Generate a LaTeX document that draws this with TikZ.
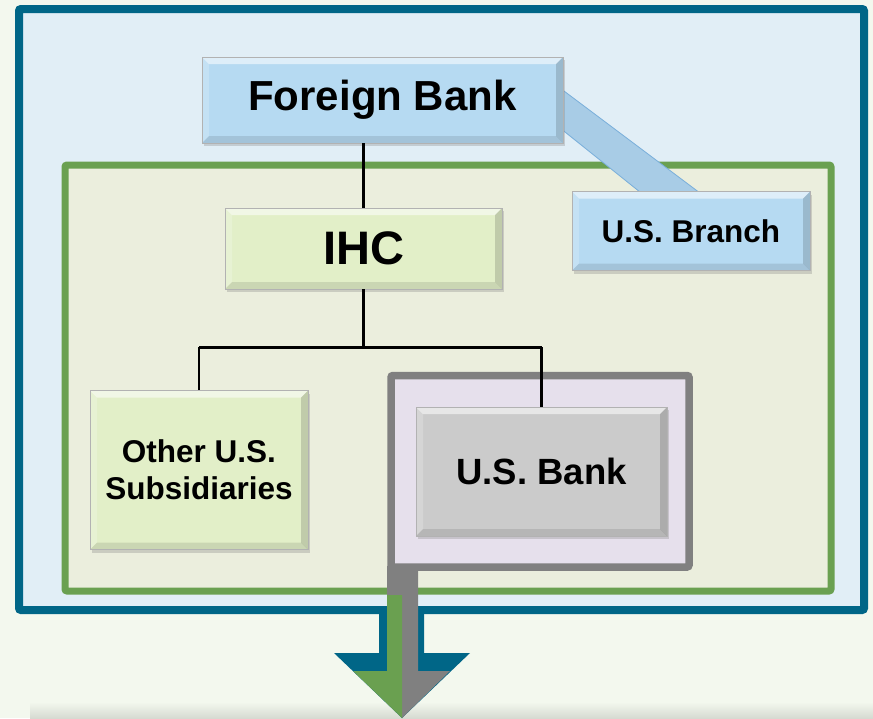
\documentclass[tikz,border=0pt]{standalone}
\usepackage{fontspec}
\setmainfont{Liberation Sans}
\usetikzlibrary{positioning,calc,shadows,backgrounds}
\definecolor{CanvasGreen}{HTML}{F3F8EE}
\definecolor{FrameBlue}{HTML}{006687}
\definecolor{FrameBlueFill}{HTML}{E1EEF6}
\definecolor{FrameGreen}{HTML}{6AA050}
\definecolor{FrameGreenFill}{HTML}{EBEEDD}
\definecolor{FrameGray}{HTML}{808080}
\definecolor{FrameLilac}{HTML}{E6E0EC}
\definecolor{BoxBlue}{HTML}{B6DAF2}
\definecolor{BoxGreen}{HTML}{E2EFC8}
\definecolor{BoxGray}{HTML}{CBCBCB}
\definecolor{BandBlue}{HTML}{A8CCE6}
\definecolor{BandEdge}{HTML}{78AEDA}

\begin{document}
\begin{tikzpicture}[x=1pt,y=-1pt,
  entity/.style={rectangle,draw=black!30,line width=0.5pt,align=center,font=\bfseries,
    inner sep=2pt,drop shadow={shadow xshift=2pt,shadow yshift=-3pt,opacity=0.3},
    path picture={
      \fill[white,opacity=0.55] (path picture bounding box.north west) -- (path picture bounding box.north east)
        -- ([xshift=-7pt,yshift=-7pt]path picture bounding box.north east) -- ([xshift=7pt,yshift=-7pt]path picture bounding box.north west) -- cycle;
      \fill[white,opacity=0.2] (path picture bounding box.north west) -- (path picture bounding box.south west)
        -- ([xshift=7pt,yshift=7pt]path picture bounding box.south west) -- ([xshift=7pt,yshift=-7pt]path picture bounding box.north west) -- cycle;
      \fill[black,opacity=0.1] (path picture bounding box.south west) -- (path picture bounding box.south east)
        -- ([xshift=-7pt,yshift=7pt]path picture bounding box.south east) -- ([xshift=7pt,yshift=7pt]path picture bounding box.south west) -- cycle;
      \fill[black,opacity=0.15] (path picture bounding box.north east) -- (path picture bounding box.south east)
        -- ([xshift=-7pt,yshift=7pt]path picture bounding box.south east) -- ([xshift=-7pt,yshift=-7pt]path picture bounding box.north east) -- cycle;
    }},
  link/.style={line width=2.6pt,black}]
  \useasboundingbox (0,0) rectangle (873,718);
  % boxes of the structure
  \node[entity,fill=BoxBlue,minimum width=361pt,minimum height=86pt,font=\bfseries\fontsize{42}{48}\selectfont]
    (fb) at (382.5,100) {Foreign Bank};
  \node[entity,fill=BoxGreen,minimum width=277pt,minimum height=81pt,font=\bfseries\fontsize{47}{52}\selectfont]
    (ihc) at (363.5,248.5) {IHC};
  \node[entity,fill=BoxBlue,minimum width=238pt,minimum height=79pt,font=\bfseries\fontsize{31.5}{36}\selectfont]
    (br) at (691,231) {U.S. Branch};
  \node[entity,fill=BoxGreen,minimum width=218pt,minimum height=159pt,font=\bfseries\fontsize{31.5}{37}\selectfont]
    (oth) at (199,470) {Other U.S.\\Subsidiaries};
  \node[entity,fill=BoxGray,minimum width=251pt,minimum height=129pt,font=\bfseries\fontsize{36.5}{42}\selectfont]
    (bank) at (541.5,471.5) {U.S. Bank};
  \draw[link] (ihc.north |- fb.south) -- (ihc.north);
  \coordinate (split) at ($(ihc.south)+(0,58)$);
  \draw[link] (ihc.south) -- (split);
  \draw[link] (oth.north |- split) -- (bank.north |- split);
  \draw[link] (oth.north |- split) -- (oth.north);
  \draw[link] (bank.north |- split) -- (bank.north);
  \begin{scope}[on background layer]
    \fill[CanvasGreen] (0,0) rectangle (873,718);
    \shade[top color=CanvasGreen,bottom color=black!12!CanvasGreen] (30,702) rectangle (873,718);
    \draw[FrameBlue,fill=FrameBlueFill,line width=8pt,rounded corners=2pt] (19,9) rectangle (864,610);
    \draw[FrameGreen,fill=FrameGreenFill,line width=7pt,rounded corners=2pt] (65,165) rectangle (831,591);
    \draw[FrameGray,fill=FrameLilac,line width=7.5pt,rounded corners=2pt] (391,375.5) rectangle (689,567);
    % band from Foreign Bank to its branch
    \filldraw[fill=BandBlue,draw=BandEdge,line width=0.8pt]
      ([xshift=-2pt,yshift=11pt]fb.east) -- ([xshift=12pt,yshift=-4pt]br.north)
      -- ([xshift=-47pt,yshift=-4pt]br.north) -- ([xshift=-2pt,yshift=-29pt]fb.east) -- cycle;
    % outflow arrow
    \fill[FrameBlue] (379,606) -- (424,606) -- (424,653) -- (470,653) -- (402,718)
      -- (334,653) -- (379,653) -- cycle;
    \fill[FrameGray] (387,566) -- (418,566) -- (418,671) -- (450,671) -- (402,718)
      -- (402,595) -- (387,595) -- cycle;
    \fill[FrameGreen] (387,595) -- (402,595) -- (402,718) -- (353,671) -- (387,671) -- cycle;
  \end{scope}
\end{tikzpicture}
\end{document}
